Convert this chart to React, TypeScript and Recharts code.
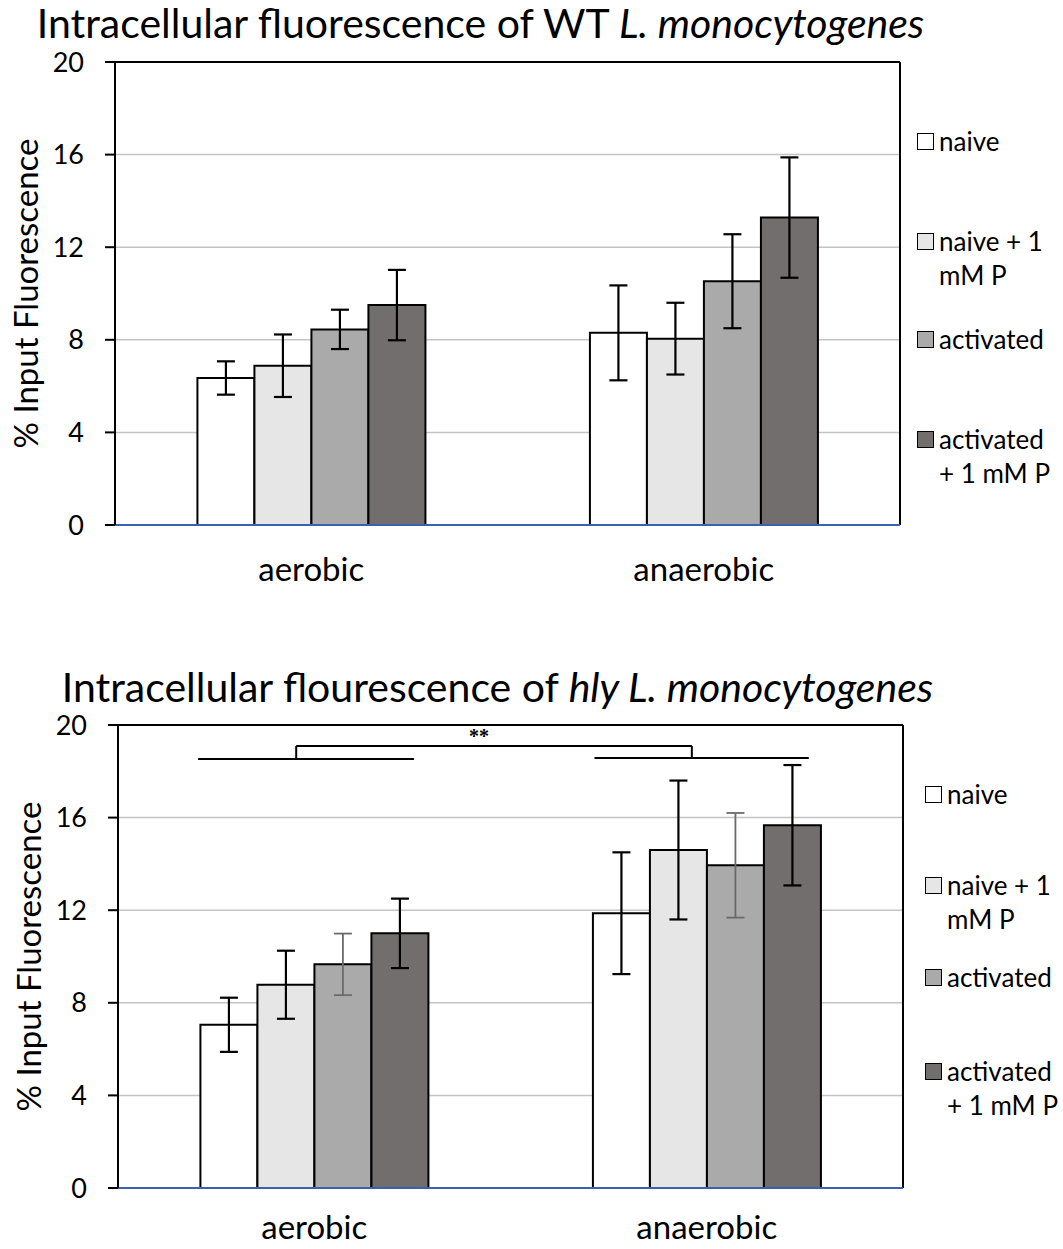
import React from 'react';
import {
  Bar,
  BarChart,
  CartesianGrid,
  ErrorBar,
  ReferenceDot,
  ReferenceLine,
  XAxis,
  YAxis
} from 'recharts';

const FONT = 'Lato, "Open Sans", sans-serif';

const categories = ['aerobic', 'anaerobic'];
const seriesKeys = ['naive', 'naivePlus', 'activated', 'activatedPlus'];
const seriesLabels = [['naive'], ['naive + 1', 'mM P'], ['activated'], ['activated', '+ 1 mM P']];
const seriesColors = ['#ffffff', '#e6e6e6', '#aaaaaa', '#736e6e'];
const yTicks = [0, 4, 8, 12, 16, 20];

// WT chart values (aerobic, anaerobic)
const wtNaive = [6.35, 8.3];
const wtNaivePlus = [6.88, 8.05];
const wtActivated = [8.45, 10.53];
const wtActivatedPlus = [9.5, 13.28];
const wtNaiveErr = [0.72, 2.05];
const wtNaivePlusErr = [1.35, 1.55];
const wtActivatedErr = [0.85, 2.03];
const wtActivatedPlusErr = [1.52, 2.6];

// hly chart values
const hlyNaive = [7.05, 11.87];
const hlyNaivePlus = [8.78, 14.6];
const hlyActivated = [9.66, 13.94];
const hlyActivatedPlus = [11.0, 15.67];
const hlyNaiveErr = [1.17, 2.63];
const hlyNaivePlusErr = [1.47, 3.0];
const hlyActivatedErr = [1.33, 2.26];
const hlyActivatedPlusErr = [1.5, 2.6];

// significance bracket for hly chart, x as fraction of plot width
const sigLeft = [0.102, 0.377, 18.53];
const sigRight = [0.607, 0.88, 18.57];
const sigBracket = [0.227, 0.731, 19.09];
const sigStar = [0.46, 19.55];

const buildRows = (vals: number[][], errs: number[][]) =>
  categories.map((name, i) => {
    const row: any = { name };
    seriesKeys.forEach((k, s) => {
      row[k] = vals[s][i];
      row[k + 'Err'] = errs[s][i];
    });
    return row;
  });

const wtData = buildRows(
  [wtNaive, wtNaivePlus, wtActivated, wtActivatedPlus],
  [wtNaiveErr, wtNaivePlusErr, wtActivatedErr, wtActivatedPlusErr]
);
const hlyData = buildRows(
  [hlyNaive, hlyNaivePlus, hlyActivated, hlyActivatedPlus],
  [hlyNaiveErr, hlyNaivePlusErr, hlyActivatedErr, hlyActivatedPlusErr]
);

const SideLegend: React.FC<any> = ({ left, top, gaps }) => (
  <div style={{ position: 'absolute', left, top, fontFamily: FONT, fontSize: 26 }}>
    {seriesLabels.map((lines, i) => (
      <div
        key={i}
        style={{
          position: 'absolute',
          top: gaps[i],
          left: 0,
          display: 'flex',
          alignItems: 'flex-start',
          whiteSpace: 'nowrap',
          lineHeight: '34px'
        }}
      >
        <div
          style={{
            width: 15,
            height: 15,
            marginTop: 9,
            marginRight: 5,
            background: seriesColors[i],
            border: '1.5px solid #000'
          }}
        />
        <div>
          {lines.map((l, j) => (
            <div key={j}>{l}</div>
          ))}
        </div>
      </div>
    ))}
  </div>
);

const Chart: React.FC<any> = ({ data, greyActivated, bracket, labelGap }) => (
  <BarChart
    width={1000}
    height={600}
    data={data}
    margin={{ top: 62, right: 100, left: 0, bottom: 25 }}
    barCategoryGap="21%"
    barGap={0}
  >
    <CartesianGrid vertical={false} stroke="#c4c4c4" strokeWidth={1.5} />
    <XAxis
      dataKey="name"
      height={50}
      axisLine={{ stroke: '#3a62b0', strokeWidth: 2 }}
      tickLine={false}
      tickMargin={labelGap}
      tick={{ fontSize: 33, fill: '#000', fontFamily: FONT }}
    />
    <XAxis xAxisId="br" type="number" domain={[0, 1]} allowDataOverflow hide />
    <YAxis
      width={115}
      domain={[0, 20]}
      ticks={yTicks}
      interval={0}
      axisLine={{ stroke: '#000', strokeWidth: 2 }}
      tickLine={{ stroke: '#000', strokeWidth: 2 }}
      tickSize={10}
      tickMargin={21}
      tick={{ fontSize: 27, fill: '#000', fontFamily: FONT }}
      label={{
        value: '% Input Fluorescence',
        angle: -90,
        position: 'insideLeft',
        offset: 26,
        style: { textAnchor: 'middle', fontSize: 33, fill: '#000', fontFamily: FONT }
      }}
    />
    {seriesKeys.map((k, i) => (
      <Bar
        key={k}
        dataKey={k}
        fill={seriesColors[i]}
        stroke="#000"
        strokeWidth={2}
        isAnimationActive={false}
      >
        <ErrorBar
          dataKey={k + 'Err'}
          width={9}
          direction="y"
          stroke={greyActivated && k === 'activated' ? '#6a6a6a' : '#000'}
          strokeWidth={greyActivated && k === 'activated' ? 1.8 : 2.2}
        />
      </Bar>
    ))}
    <ReferenceLine y={20} stroke="#000" strokeWidth={2} />
    <ReferenceLine xAxisId="br" x={1} stroke="#000" strokeWidth={2} />
    {bracket && (
      <>
        <ReferenceLine
          xAxisId="br"
          segment={[{ x: sigLeft[0], y: sigLeft[2] }, { x: sigLeft[1], y: sigLeft[2] }]}
          stroke="#000"
          strokeWidth={2}
        />
        <ReferenceLine
          xAxisId="br"
          segment={[{ x: sigRight[0], y: sigRight[2] }, { x: sigRight[1], y: sigRight[2] }]}
          stroke="#000"
          strokeWidth={2}
        />
        <ReferenceLine
          xAxisId="br"
          segment={[{ x: sigBracket[0], y: sigLeft[2] }, { x: sigBracket[0], y: sigBracket[2] }]}
          stroke="#000"
          strokeWidth={2}
        />
        <ReferenceLine
          xAxisId="br"
          segment={[{ x: sigBracket[0], y: sigBracket[2] }, { x: sigBracket[1], y: sigBracket[2] }]}
          stroke="#000"
          strokeWidth={2}
        />
        <ReferenceLine
          xAxisId="br"
          segment={[{ x: sigBracket[1], y: sigBracket[2] }, { x: sigBracket[1], y: sigRight[2] }]}
          stroke="#000"
          strokeWidth={2}
        />
        <ReferenceDot
          xAxisId="br"
          x={sigStar[0]}
          y={sigStar[1]}
          r={0}
          stroke="none"
          label={{ value: '**', position: 'center', fontSize: 20, fontWeight: 700, fill: '#000' }}
        />
      </>
    )}
  </BarChart>
);

const titleStyle: React.CSSProperties = {
  position: 'absolute',
  fontFamily: FONT,
  fontSize: 41,
  lineHeight: '34px',
  whiteSpace: 'nowrap',
  textAlign: 'center',
  color: '#000'
};

const App: React.FC = () => (
  <div style={{ position: 'absolute', left: 0, top: 0, width: 1063, height: 1249, background: '#fff' }}>
    <div style={{ ...titleStyle, left: 0, width: 961, top: 6 }}>
      Intracellular fluorescence of WT <i>L. monocytogenes</i>
    </div>
    <div style={{ position: 'absolute', left: 0, top: 0 }}>
      <Chart data={wtData} labelGap={27} />
    </div>
    <SideLegend left={917} top={124} gaps={[0, 100, 198, 298]} />

    <div style={{ ...titleStyle, left: 0, width: 995, top: 670 }}>
      Intracellular flourescence of <i>hly L. monocytogenes</i>
    </div>
    <div style={{ position: 'absolute', left: 3, top: 663 }}>
      <Chart data={hlyData} greyActivated bracket labelGap={22} />
    </div>
    <SideLegend left={925} top={777} gaps={[0, 91, 183, 277]} />
  </div>
);

export default App;
